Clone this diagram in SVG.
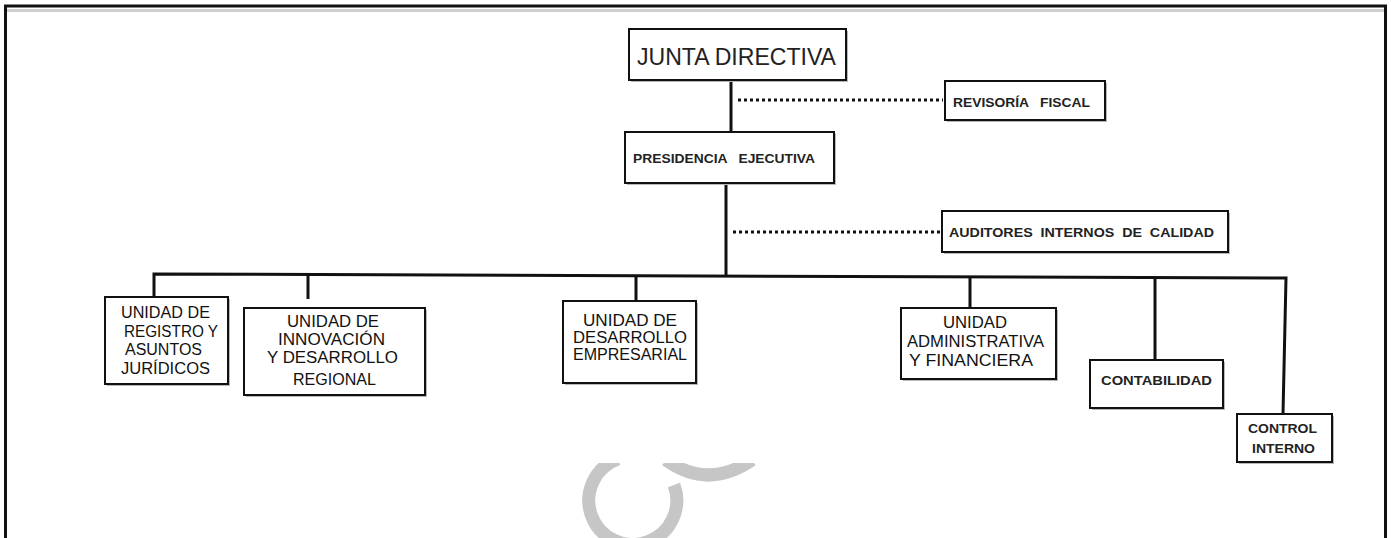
<svg xmlns="http://www.w3.org/2000/svg" width="1391" height="538" viewBox="0 0 1391 538">
<style>
.box{fill:#fff;stroke:#111;stroke-width:2}
.sh{fill:#b8b8b8}
.big{font-family:"Liberation Sans",Arial,sans-serif;font-size:16px;fill:#111}
.sm{font-family:"Liberation Sans",Arial,sans-serif;font-size:12.5px;font-weight:bold;fill:#222}
.title{font-family:"Liberation Sans",Arial,sans-serif;font-size:24px;fill:#222}
.ln{stroke:#111;stroke-width:3;fill:none}
.dot{stroke:#111;stroke-width:3;fill:none;stroke-dasharray:3 3}
.wm{stroke:#c6c6c6;stroke-width:13;fill:none}
</style>
<defs>
<clipPath id="wmclip"><rect x="0" y="463" width="1391" height="80"/></clipPath>
</defs>
<rect x="0" y="0" width="1391" height="538" fill="#fff"/>
<g id="frame">
<line x1="7" y1="10.5" x2="1384" y2="10.5" stroke="#cfcfcf" stroke-width="3"/>
<path d="M5.5 540 V6 H1385.5 V540" fill="none" stroke="#111" stroke-width="3"/>
</g>
<g id="watermark" clip-path="url(#wmclip)">
<path class="wm" d="M618 459 A44 44 0 1 0 674 485"/>
<path class="wm" d="M666 460 Q708 490 752 460"/>
</g>
<g id="connectors">
<line class="ln" x1="731" y1="80" x2="731" y2="132"/>
<line class="dot" x1="738" y1="100" x2="943" y2="100"/>
<line class="ln" x1="726" y1="183" x2="726" y2="276"/>
<line class="dot" x1="733" y1="232" x2="941" y2="232"/>
<path class="ln" d="M154 297 V274 L1286 278 L1283 414"/>
<line class="ln" x1="308" y1="275" x2="308" y2="299"/>
<line class="ln" x1="636" y1="276" x2="636" y2="301"/>
<line class="ln" x1="970" y1="277" x2="970" y2="308"/>
<line class="ln" x1="1155" y1="277" x2="1155" y2="360"/>
</g>
<g id="junta">
<rect class="sh" x="631" y="31" width="217" height="51"/>
<rect class="box" x="629" y="29" width="217" height="51"/>
<text class="title" x="637" y="65" textLength="199" lengthAdjust="spacingAndGlyphs">JUNTA DIRECTIVA</text>
</g>
<g id="revisoria">
<rect class="sh" x="947" y="83" width="160" height="39"/>
<rect class="box" x="945" y="81" width="160" height="39"/>
<text class="sm" x="953" y="107" textLength="137" lengthAdjust="spacingAndGlyphs" xml:space="preserve">REVISORÍA   FISCAL</text>
</g>
<g id="presidencia">
<rect class="sh" x="627" y="134" width="209" height="51"/>
<rect class="box" x="625" y="132" width="209" height="51"/>
<text class="sm" x="633" y="163" textLength="182" lengthAdjust="spacingAndGlyphs" xml:space="preserve">PRESIDENCIA   EJECUTIVA</text>
</g>
<g id="auditores">
<rect class="sh" x="944" y="213" width="286" height="41"/>
<rect class="box" x="942" y="211" width="286" height="41"/>
<text class="sm" x="949" y="237" textLength="265" lengthAdjust="spacingAndGlyphs" xml:space="preserve">AUDITORES  INTERNOS  DE  CALIDAD</text>
</g>
<g id="registro">
<rect class="sh" x="107" y="299" width="123" height="87"/>
<rect class="box" x="105" y="297" width="123" height="87"/>
<text class="big" x="121" y="318" textLength="89" lengthAdjust="spacingAndGlyphs">UNIDAD DE</text>
<text class="big" x="124" y="337" textLength="94" lengthAdjust="spacingAndGlyphs">REGISTRO Y</text>
<text class="big" x="125" y="355" textLength="77" lengthAdjust="spacingAndGlyphs">ASUNTOS</text>
<text class="big" x="121" y="374" textLength="89" lengthAdjust="spacingAndGlyphs">JURÍDICOS</text>
</g>
<g id="innovacion">
<rect class="sh" x="246" y="310" width="181" height="87"/>
<rect class="box" x="244" y="308" width="181" height="87"/>
<text class="big" x="287" y="327" textLength="92" lengthAdjust="spacingAndGlyphs">UNIDAD DE</text>
<text class="big" x="278" y="345" textLength="107" lengthAdjust="spacingAndGlyphs">INNOVACIÓN</text>
<text class="big" x="267" y="363" textLength="131" lengthAdjust="spacingAndGlyphs">Y DESARROLLO</text>
<text class="big" x="293" y="385" textLength="83" lengthAdjust="spacingAndGlyphs">REGIONAL</text>
</g>
<g id="empresarial">
<rect class="sh" x="565" y="303" width="133" height="82"/>
<rect class="box" x="563" y="301" width="133" height="82"/>
<text class="big" x="583" y="326" textLength="94" lengthAdjust="spacingAndGlyphs">UNIDAD DE</text>
<text class="big" x="573" y="343" textLength="114" lengthAdjust="spacingAndGlyphs">DESARROLLO</text>
<text class="big" x="573" y="360" textLength="114" lengthAdjust="spacingAndGlyphs">EMPRESARIAL</text>
</g>
<g id="administrativa">
<rect class="sh" x="903" y="310" width="155" height="71"/>
<rect class="box" x="901" y="308" width="155" height="71"/>
<text class="big" x="943" y="328" textLength="64" lengthAdjust="spacingAndGlyphs">UNIDAD</text>
<text class="big" x="907" y="347" textLength="137" lengthAdjust="spacingAndGlyphs">ADMINISTRATIVA</text>
<text class="big" x="909" y="366" textLength="124" lengthAdjust="spacingAndGlyphs">Y FINANCIERA</text>
</g>
<g id="contabilidad">
<rect class="sh" x="1092" y="362" width="133" height="48"/>
<rect class="box" x="1090" y="360" width="133" height="48"/>
<text class="sm" x="1101" y="385" textLength="111" lengthAdjust="spacingAndGlyphs">CONTABILIDAD</text>
</g>
<g id="control">
<rect class="sh" x="1239" y="416" width="95" height="48"/>
<rect class="box" x="1237" y="414" width="95" height="48"/>
<text class="sm" x="1248" y="433" textLength="69" lengthAdjust="spacingAndGlyphs">CONTROL</text>
<text class="sm" x="1252" y="453" textLength="63" lengthAdjust="spacingAndGlyphs">INTERNO</text>
</g>
</svg>
